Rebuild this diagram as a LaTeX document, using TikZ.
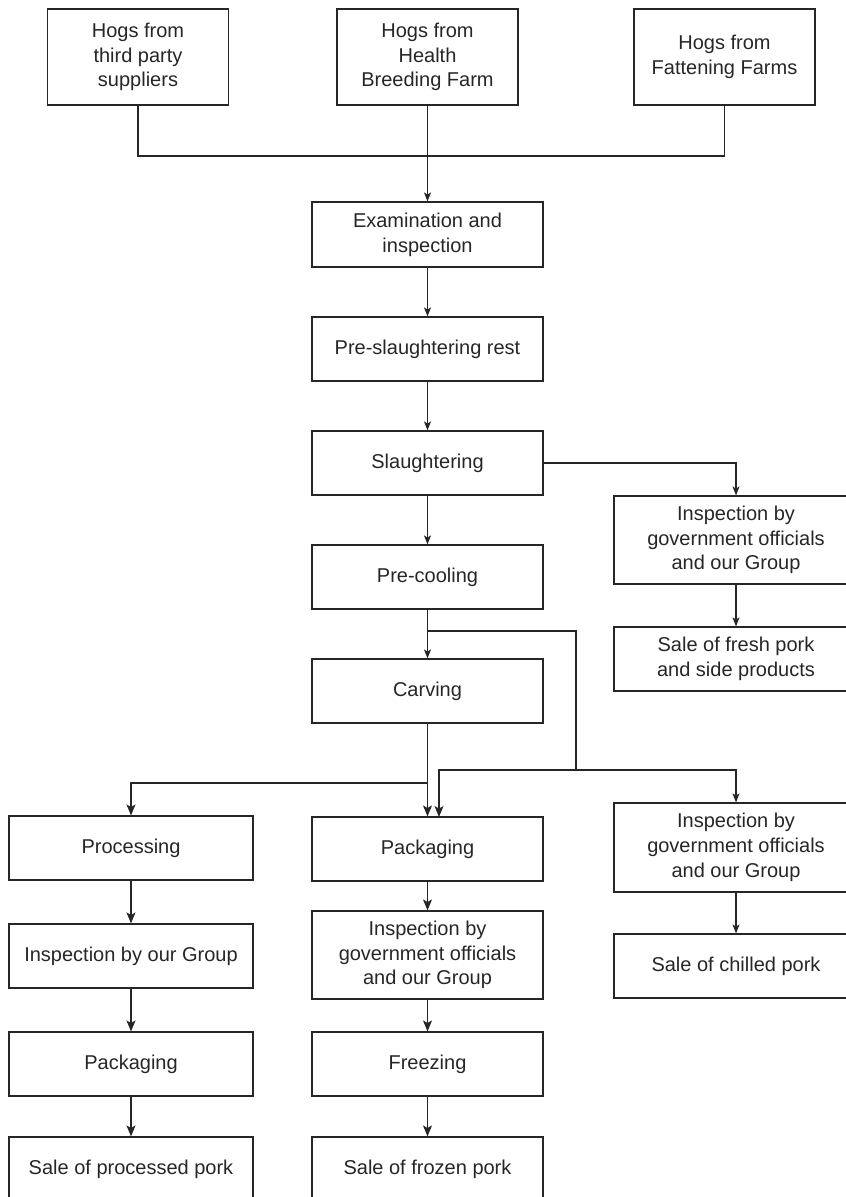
\documentclass[tikz,border=0pt]{standalone}
\usepackage{fontspec}
\setmainfont{Liberation Sans}
\usetikzlibrary{arrows.meta}
\definecolor{ink}{HTML}{262626}
\begin{document}
\begin{tikzpicture}[x=1pt,y=-1pt,
  box/.style={draw=ink, line width=1.2pt, rectangle, inner sep=0pt, align=center,
    text=ink, font=\fontsize{20}{24.7}\selectfont},
  wide/.style={minimum width=244pt},
  mid/.style={minimum width=231pt},
  src/.style={minimum width=181pt, minimum height=96pt},
  h64/.style={minimum height=64pt},
  h88/.style={minimum height=88pt},
  link/.style={draw=ink, line width=1.2pt},
  arr/.style={link, -{Stealth[length=9pt,width=7pt,inset=2.2pt]}},
  arrbig/.style={link, -{Stealth[length=11pt,width=9pt,inset=2.6pt]}}]
\useasboundingbox (0,0) rectangle (846,1197);

% sources
\node[box,src] (srcA) at (138,57) {Hogs from\\third party\\suppliers};
\node[box,src] (srcB) at (427.5,57) {Hogs from\\Health\\Breeding Farm};
\node[box,src] (srcC) at (724.5,57) {Hogs from\\Fattening Farms};

% main chain
\node[box,mid,minimum height=65pt] (exam) at (427.5,234.5) {Examination and\\inspection};
\node[box,mid,h64] (rest) at (427.5,349) {Pre-slaughtering rest};
\node[box,mid,h64] (slaughter) at (427.5,463) {Slaughtering};
\node[box,mid,h64] (precool) at (427.5,577) {Pre-cooling};
\node[box,mid,h64] (carve) at (427.5,691) {Carving};

% fresh pork branch
\node[box,wide,h88] (inspFresh) at (736,540) {Inspection by\\government officials\\and our Group};
\node[box,wide,h64] (saleFresh) at (736,659) {Sale of fresh pork\\and side products};

% processed pork column
\node[box,wide,h64] (proc) at (131,848) {Processing};
\node[box,wide,h64] (inspGroup) at (131,956) {Inspection by our Group};
\node[box,wide,h64] (packA) at (131,1064) {Packaging};
\node[box,wide,h64] (saleProc) at (131,1169) {Sale of processed pork};

% frozen pork column
\node[box,mid,h64] (packB) at (427.5,849) {Packaging};
\node[box,mid,h88] (inspFrozen) at (427.5,955) {Inspection by\\government officials\\and our Group};
\node[box,mid,h64] (freeze) at (427.5,1064) {Freezing};
\node[box,mid,h64] (saleFrozen) at (427.5,1169) {Sale of frozen pork};

% chilled pork column
\node[box,wide,minimum height=89pt] (inspChill) at (736,847.5) {Inspection by\\government officials\\and our Group};
\node[box,wide,h64] (saleChill) at (736,966) {Sale of chilled pork};

% junction points
\coordinate (merge) at (427.5,156);
\coordinate (coolSplit) at (427.5,631);
\coordinate (bypass) at (576,770);
\coordinate (carveSplit) at (427.5,783);
\coordinate (packIn) at (439,817);

% sources into inspection
\draw[link] (srcA.south) |- (merge) -| (srcC.south);
\draw[arr] (srcB.south) -- (exam.north);

% main chain arrows
\draw[arr] (exam) -- (rest);
\draw[arr] (rest) -- (slaughter);
\draw[arr] (slaughter) -- (precool);
\draw[arr] (precool) -- (carve);
\draw[arr] (slaughter.east) -| (inspFresh.north);
\draw[arr] (inspFresh) -- (saleFresh);

% pre-cooled carcasses bypassing carving
\draw[link] (coolSplit) -| (bypass);
\draw[arrbig] (bypass) -| (packIn);
\draw[arr] (bypass) -| (inspChill.north);

% carving outputs
\draw[arrbig] (carve.south) -- (packB.north);
\draw[arrbig] (carveSplit) -| (proc.north);

% lower columns
\draw[arrbig] (proc) -- (inspGroup);
\draw[arrbig] (inspGroup) -- (packA);
\draw[arrbig] (packA) -- (saleProc);
\draw[arrbig] (packB) -- (inspFrozen);
\draw[arrbig] (inspFrozen) -- (freeze);
\draw[arrbig] (freeze) -- (saleFrozen);
\draw[arr] (inspChill) -- (saleChill);
\end{tikzpicture}
\end{document}
